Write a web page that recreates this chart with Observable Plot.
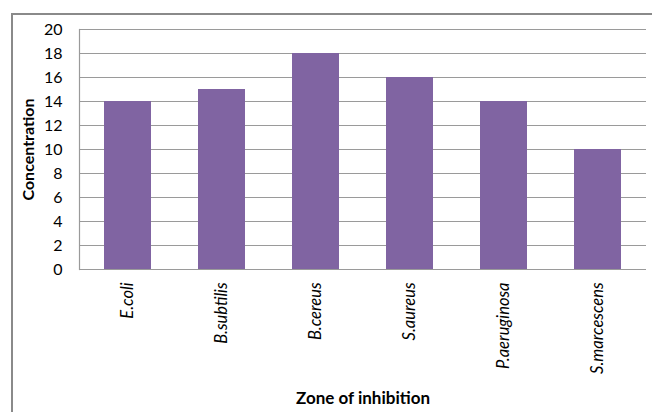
<!DOCTYPE html>
<html>
<head>
<meta charset="utf-8">
<script src="https://cdn.jsdelivr.net/npm/d3@7"></script>
<script src="https://cdn.jsdelivr.net/npm/@observablehq/plot@0.6"></script>
<style>
  html, body { margin: 0; padding: 0; background: #fff; }
  #wrap { position: relative; width: 652px; height: 412px; overflow: hidden; }
  #border { position: absolute; left: 11px; top: 13px; width: 700px; height: 500px;
            border-left: 2px solid #8a8a8a; border-top: 2px solid #8a8a8a; }
  #chart { position: absolute; left: 0; top: 0; }
  #chart svg { font-family: Lato, "Open Sans", sans-serif; }
</style>
</head>
<body>
<div id="wrap"><div id="border"></div><div id="chart"></div></div>
<script>
const categories = ["E.coli", "B.subtilis", "B.cereus", "S.aureus", "P.aeruginosa", "S.marcescens"];
const values = [14, 15, 18, 16, 14, 10];
const yTicks = [0, 2, 4, 6, 8, 10, 12, 14, 16, 18, 20];
const xTitle = "Zone of inhibition";
const yTitle = "Concentration";

const data = categories.map((c, i) => ({category: c, value: values[i]}));

const plot = Plot.plot({
  width: 652,
  height: 412,
  marginLeft: 79,
  marginRight: 6,
  marginTop: 29,
  marginBottom: 143,
  style: {color: "#000", background: "transparent"},
  x: {domain: categories, paddingInner: 0.5, paddingOuter: 0.25, axis: null},
  y: {domain: [0, 20], axis: null},
  marks: [
    Plot.ruleY(yTicks, {stroke: "#9a9a9a", strokeWidth: 1.2}),
    Plot.frame({anchor: "left", stroke: "#9a9a9a", strokeWidth: 1.2}),
    Plot.barY(data, {x: "category", y: "value", fill: "#8064A2"}),
    // y tick labels
    Plot.text(yTicks, {y: d => d, frameAnchor: "left", textAnchor: "end", lineAnchor: "middle", dx: -17, fontSize: 16, fill: "#000"}),
    // x tick labels
    Plot.text(categories, {x: d => d, frameAnchor: "bottom", rotate: -90, textAnchor: "end", lineAnchor: "middle", dy: 13, fontSize: 16.5, fontStyle: "italic", fill: "#000"}),
    // titles
    Plot.text([yTitle], {frameAnchor: "left", rotate: -90, textAnchor: "middle", lineAnchor: "middle", dx: -51, fontSize: 16, fontWeight: "bold", fill: "#000"}),
    Plot.text([xTitle], {frameAnchor: "bottom", textAnchor: "middle", lineAnchor: "middle", dy: 129, fontSize: 17, fontWeight: "bold", fill: "#000"})
  ]
});
document.getElementById("chart").appendChild(plot);
</script>
</body>
</html>
